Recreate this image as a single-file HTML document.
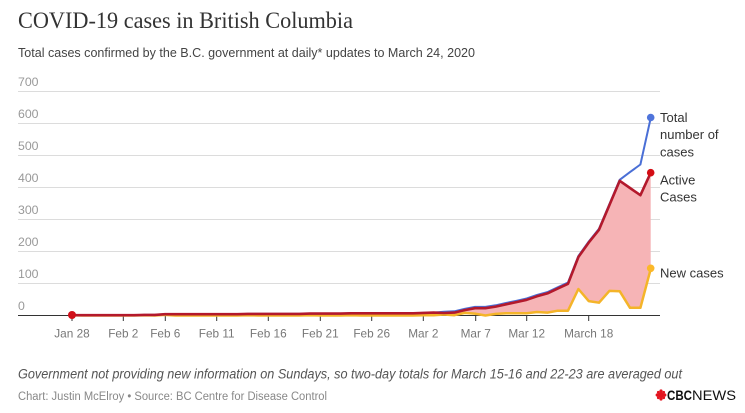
<!DOCTYPE html>
<html><head><meta charset="utf-8"><style>
html,body{margin:0;padding:0;background:#fff;}
svg{display:block;}
text{font-family:"Liberation Sans",Arial,sans-serif;}
</style></head><body>
<svg width="745" height="413" viewBox="0 0 745 413" xmlns="http://www.w3.org/2000/svg">
<rect width="745" height="413" fill="#fff"/>
<text x="18" y="28" font-family="Liberation Serif, serif" style="font-family:'Liberation Serif',serif" font-size="23.5" fill="#333" textLength="335" lengthAdjust="spacingAndGlyphs">COVID-19 cases in British Columbia</text>
<text x="18" y="57" font-size="13" fill="#444" textLength="457" lengthAdjust="spacingAndGlyphs">Total cases confirmed by the B.C. government at daily* updates to March 24, 2020</text>
<g stroke="#dcdcdc" stroke-width="1">
<line x1="18" y1="91.5" x2="660" y2="91.5"/>
<line x1="18" y1="123.5" x2="660" y2="123.5"/>
<line x1="18" y1="155.5" x2="660" y2="155.5"/>
<line x1="18" y1="187.5" x2="660" y2="187.5"/>
<line x1="18" y1="219.5" x2="660" y2="219.5"/>
<line x1="18" y1="251.5" x2="660" y2="251.5"/>
<line x1="18" y1="283.5" x2="660" y2="283.5"/>
</g>
<g font-size="12.3" fill="#999">
<text x="18" y="86">700</text>
<text x="18" y="118">600</text>
<text x="18" y="150">500</text>
<text x="18" y="182">400</text>
<text x="18" y="214">300</text>
<text x="18" y="246">200</text>
<text x="18" y="278">100</text>
<text x="18" y="310">0</text>
</g>
<polygon fill="#f6b4b6" points="72,315.2 134.0,315.2 144.3,314.9 154.7,314.9 165.0,314.2 237.3,314.2 247.7,313.9 299.3,313.9 309.7,313.6 340.7,313.6 351.0,313.3 413.0,313.3 423.4,312.9 433.7,312.6 444.0,313.0 454.4,312.6 464.7,310.1 475.0,308.2 485.4,308.2 495.7,306.6 506.0,304.3 516.4,302.1 526.7,299.8 537.0,296.3 547.4,293.4 557.7,288.6 568.0,283.8 578.4,257.0 588.7,242.6 599.0,229.8 609.4,205.1 619.7,180.8 630.0,188.0 640.4,195.2 650.7,172.8 650.7,269.1 640.4,307.8 630.0,307.8 619.7,291.2 609.4,290.9 599.0,302.7 588.7,301.1 578.4,289.0 568.0,310.7 557.7,310.7 547.4,312.6 537.0,312.0 526.7,313.3 516.4,313.3 506.0,313.3 495.7,313.9 485.4,315.5 475.0,313.6 464.7,312.9 454.4,315.2 444.0,314.5 433.7,315.2 423.4,315.2 413.0,315.5 72,315.5"/>
<line x1="18" y1="315.5" x2="660" y2="315.5" stroke="#333" stroke-width="1"/>
<g stroke="#333" stroke-width="1">
<line x1="72" y1="315.5" x2="72" y2="321"/>
<line x1="123.3" y1="315.5" x2="123.3" y2="321"/>
<line x1="165.3" y1="315.5" x2="165.3" y2="321"/>
<line x1="216.7" y1="315.5" x2="216.7" y2="321"/>
<line x1="268.3" y1="315.5" x2="268.3" y2="321"/>
<line x1="320.3" y1="315.5" x2="320.3" y2="321"/>
<line x1="371.7" y1="315.5" x2="371.7" y2="321"/>
<line x1="423.3" y1="315.5" x2="423.3" y2="321"/>
<line x1="475.7" y1="315.5" x2="475.7" y2="321"/>
<line x1="526.7" y1="315.5" x2="526.7" y2="321"/>
<line x1="588.7" y1="315.5" x2="588.7" y2="321"/>
</g>
<polyline fill="none" stroke="#f4b429" stroke-width="2.5" stroke-linejoin="round" points="72,315.2 82.3,315.5 134.0,315.5 144.3,315.2 154.7,315.5 165.0,314.9 175.3,315.5 237.3,315.5 247.7,315.2 258.0,315.5 299.3,315.5 309.7,315.2 320.0,315.5 340.7,315.5 351.0,315.2 361.3,315.5 413.0,315.5 423.4,315.2 433.7,315.2 444.0,314.5 454.4,315.2 464.7,312.9 475.0,313.6 485.4,315.5 495.7,313.9 506.0,313.3 516.4,313.3 526.7,313.3 537.0,312.0 547.4,312.6 557.7,310.7 568.0,310.7 578.4,289.0 588.7,301.1 599.0,302.7 609.4,290.9 619.7,291.2 630.0,307.8 640.4,307.8 650.7,269.1"/>
<polyline fill="none" stroke="#4a6fd6" stroke-width="2" stroke-linejoin="round" points="72,315.2 134.0,315.2 144.3,314.9 154.7,314.9 165.0,314.2 237.3,314.2 247.7,313.9 299.3,313.9 309.7,313.6 340.7,313.6 351.0,313.3 413.0,313.3 423.4,312.9 433.7,312.6 444.0,311.7 454.4,311.3 464.7,308.8 475.0,306.9 485.4,306.9 495.7,305.3 506.0,303.0 516.4,300.8 526.7,298.5 537.0,295.0 547.4,292.1 557.7,287.3 568.0,282.5 578.4,256.0 588.7,241.6 599.0,228.8 609.4,204.1 619.7,179.8 630.0,172.1 640.4,164.5 650.7,118.1"/>
<polyline fill="none" stroke="#b3192c" stroke-width="2.6" stroke-linejoin="round" points="72,315.2 134.0,315.2 144.3,314.9 154.7,314.9 165.0,314.2 237.3,314.2 247.7,313.9 299.3,313.9 309.7,313.6 340.7,313.6 351.0,313.3 413.0,313.3 423.4,312.9 433.7,312.6 444.0,313.0 454.4,312.6 464.7,310.1 475.0,308.2 485.4,308.2 495.7,306.6 506.0,304.3 516.4,302.1 526.7,299.8 537.0,296.3 547.4,293.4 557.7,288.6 568.0,283.8 578.4,257.0 588.7,242.6 599.0,229.8 609.4,205.1 619.7,180.8 630.0,188.0 640.4,195.2 650.7,172.8"/>
<circle cx="72" cy="315" r="4" fill="#d0101a"/>
<circle cx="650.7" cy="117.5" r="3.8" fill="#4f74db"/>
<circle cx="650.7" cy="172.7" r="3.8" fill="#d40d14"/>
<circle cx="650.7" cy="268.3" r="3.8" fill="#fbb829"/>
<g font-size="13" fill="#333">
<text x="660" y="122">Total</text>
<text x="660" y="139">number of</text>
<text x="660" y="156.5">cases</text>
<text x="660" y="184.5">Active</text>
<text x="660" y="201.5">Cases</text>
<text x="660" y="277.5">New cases</text>
</g>
<g font-size="11.8" fill="#777" text-anchor="middle">
<text x="72" y="337.5">Jan 28</text>
<text x="123.3" y="337.5">Feb 2</text>
<text x="165.3" y="337.5">Feb 6</text>
<text x="216.7" y="337.5">Feb 11</text>
<text x="268.3" y="337.5">Feb 16</text>
<text x="320.3" y="337.5">Feb 21</text>
<text x="371.7" y="337.5">Feb 26</text>
<text x="423.3" y="337.5">Mar 2</text>
<text x="475.7" y="337.5">Mar 7</text>
<text x="526.7" y="337.5">Mar 12</text>
<text x="588.7" y="337.5">March 18</text>
</g>
<text x="18" y="378.5" font-size="13.5" font-style="italic" fill="#555" textLength="664" lengthAdjust="spacingAndGlyphs">Government not providing new information on Sundays, so two-day totals for March 15-16 and 22-23 are averaged out</text>
<text x="18" y="400" font-size="11.5" fill="#888" textLength="309" lengthAdjust="spacingAndGlyphs">Chart: Justin McElroy • Source: BC Centre for Disease Control</text>
<g fill="#e3141f">
<circle cx="661" cy="395" r="3"/>
<circle cx="661" cy="391" r="1.6"/>
<circle cx="661" cy="399" r="1.6"/>
<circle cx="657.2" cy="395" r="1.6"/>
<circle cx="664.8" cy="395" r="1.6"/>
<circle cx="658.3" cy="392.3" r="1.4"/>
<circle cx="663.7" cy="392.3" r="1.4"/>
<circle cx="658.3" cy="397.7" r="1.4"/>
<circle cx="663.7" cy="397.7" r="1.4"/>
</g>
<text x="667" y="400" font-size="14" font-weight="bold" fill="#111" textLength="25" lengthAdjust="spacingAndGlyphs">CBC</text>
<text x="692" y="400" font-size="14" fill="#111" textLength="44" lengthAdjust="spacingAndGlyphs">NEWS</text>
</svg>
</body></html>
